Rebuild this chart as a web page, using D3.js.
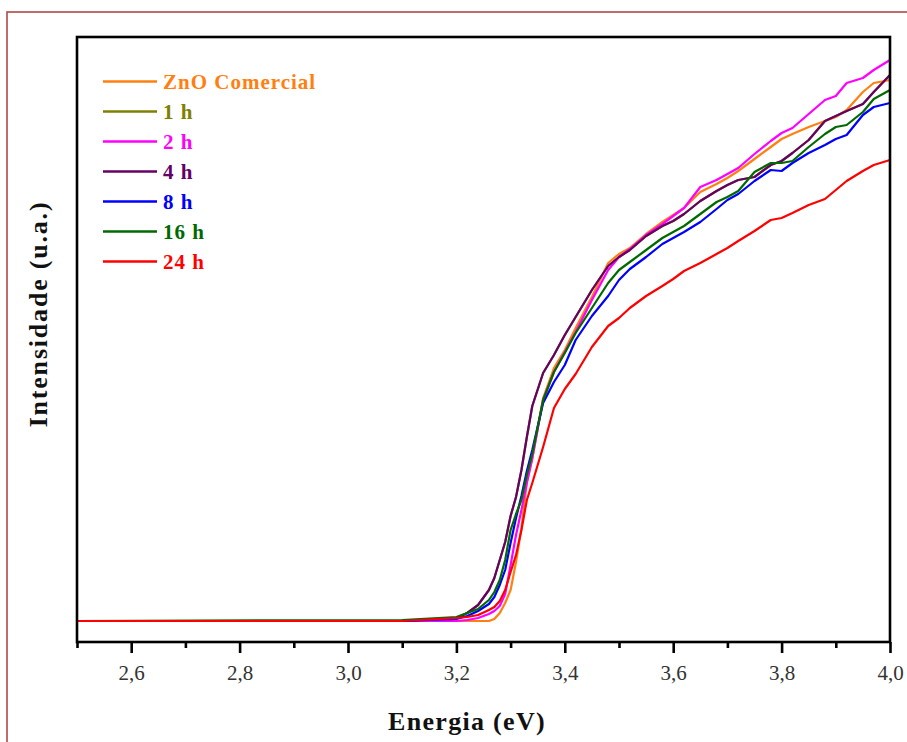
<!DOCTYPE html>
<html><head><meta charset="utf-8">
<script src="https://cdn.jsdelivr.net/npm/d3@7"></script>
<style>body{margin:0;background:#fff} svg{display:block}</style>
</head><body>
<svg id="chart" width="907" height="742"></svg>
<script>
// ---- data ----
const energies = [2.5, 3.1, 3.2, 3.22, 3.24, 3.26, 3.27, 3.28, 3.29, 3.30, 3.31, 3.32, 3.33, 3.34, 3.36, 3.38, 3.40, 3.42, 3.45, 3.48, 3.50, 3.52, 3.55, 3.58, 3.60, 3.62, 3.65, 3.68, 3.70, 3.72, 3.75, 3.78, 3.80, 3.82, 3.85, 3.88, 3.90, 3.92, 3.95, 3.97, 4.0];
const seriesNames = ["ZnO Comercial", "1 h", "2 h", "4 h", "8 h", "16 h", "24 h"];
const seriesColors = ["#ff8010", "#808000", "#ff00ff", "#660066", "#0000ff", "#006a00", "#ff0000"];
const znoComercial = [0,0,0,0,0,0,2,8,18,31,59,93,139,162,223,253,271,293,324,358,367,373,387,399,406,413,429,437,443,450,462,474,482,487,494,500,504,511,529,538,541];
const h1  = [0,0,3,8,16,31,43,61,79,105,124,151,184,215,248,266,286,304,331,355,364,371,385,395,400,407,420,430,436,441,444,456,460,468,481,500,505,510,517,529,546];
const h2  = [0,0,0,1,3,7,10,15,27,56,86,111,138,163,221,249,269,289,321,351,364,372,386,397,405,413,434,441,447,453,467,480,488,493,507,521,525,538,543,551,561];
const h4  = [0,0,3,8,16,31,43,61,79,105,124,151,184,215,248,266,286,304,331,355,364,371,385,395,400,407,420,430,436,441,444,456,460,468,481,500,505,510,517,529,546];
const h8  = [0,0,2,5,10,17,24,36,51,78,103,125,150,171,218,239,256,281,305,325,341,352,364,377,383,389,399,412,421,427,440,451,450,458,468,476,482,486,506,514,518];
const h16 = [0,1,4,8,12,21,29,41,61,91,107,121,146,167,221,249,268,288,313,338,351,359,371,383,389,395,407,419,424,430,449,458,458,460,474,487,494,496,509,522,531];
const h24 = [0,0,3,4,6,11,14,20,31,49,66,91,121,138,174,213,232,247,274,295,303,313,325,335,342,350,358,367,373,380,390,401,403,408,416,422,431,440,450,456,461];
const seriesValues = [znoComercial, h1, h2, h4, h8, h16, h24];
const drawOrder = [1, 0, 2, 3, 4, 5, 6];
const majorTicks = [2.6, 2.8, 3.0, 3.2, 3.4, 3.6, 3.8, 4.0];
const tickLabels = ["2,6", "2,8", "3,0", "3,2", "3,4", "3,6", "3,8", "4,0"];
const minorTicks = [2.5, 2.7, 2.9, 3.1, 3.3, 3.5, 3.7, 3.9];
const xLabel = "Energia (eV)";
const yLabel = "Intensidade (u.a.)";

// ---- layout ----
const svg = d3.select("#chart");
const L = 77, R = 890, T = 37, B = 642;
const x = d3.scaleLinear().domain([2.5, 4.0]).range([L, R]);
const y = d3.scaleLinear().domain([-21, 584]).range([B, T]);
const serif = "'Times New Roman', 'Liberation Serif', serif";

// outer border
svg.append("rect").attr("x", 7).attr("y", 12).attr("width", 1000).attr("height", 1000)
  .attr("fill", "none").attr("stroke", "#b04848").attr("stroke-width", 1.6);

// curves
const line = d3.line().x(d => x(d[0])).y(d => y(d[1]));
const plot = svg.append("g");
drawOrder.forEach(i => {
  const pts = energies.map((e, k) => [e, seriesValues[i][k]]);
  plot.append("path").datum(pts).attr("d", line)
    .attr("fill", "none").attr("stroke", seriesColors[i]).attr("stroke-width", 2.2)
    .attr("stroke-linejoin", "round");
});

// frame
svg.append("rect").attr("x", L).attr("y", T).attr("width", R - L).attr("height", B - T)
  .attr("fill", "none").attr("stroke", "#000").attr("stroke-width", 2.6);

// x axis
const axMajor = svg.append("g").attr("transform", `translate(0,${B})`)
  .call(d3.axisBottom(x).tickValues(majorTicks).tickSize(11).tickPadding(12)
    .tickFormat((d, i) => tickLabels[i]));
axMajor.select(".domain").remove();
axMajor.selectAll(".tick line").attr("stroke", "#000").attr("stroke-width", 2.6);
axMajor.selectAll(".tick text").attr("font-family", serif).attr("font-size", 21)
  .attr("fill", "#333");
const axMinor = svg.append("g").attr("transform", `translate(0,${B})`)
  .call(d3.axisBottom(x).tickValues(minorTicks).tickSize(6).tickFormat(""));
axMinor.select(".domain").remove();
axMinor.selectAll(".tick line").attr("stroke", "#000").attr("stroke-width", 2.6);

// axis titles
svg.append("text").attr("x", 467).attr("y", 730).attr("text-anchor", "middle")
  .attr("font-family", serif).attr("font-weight", "bold").attr("font-size", 26)
  .attr("letter-spacing", 1.3).attr("fill", "#111").text(xLabel);
svg.append("text").attr("transform", "translate(47,314) rotate(-90)").attr("text-anchor", "middle")
  .attr("font-family", serif).attr("font-weight", "bold").attr("font-size", 26)
  .attr("letter-spacing", 1.8).attr("fill", "#111").text(yLabel);

// legend
const leg = svg.append("g");
seriesNames.forEach((name, i) => {
  const ry = 81.5 + i * 30;
  leg.append("line").attr("x1", 103).attr("x2", 157).attr("y1", ry).attr("y2", ry)
    .attr("stroke", seriesColors[i]).attr("stroke-width", 2.6);
  leg.append("text").attr("x", 163).attr("y", ry + 7.5)
    .attr("font-family", serif).attr("font-weight", "bold").attr("font-size", 21)
    .attr("letter-spacing", 1).attr("fill", seriesColors[i]).text(name);
});
</script>
</body></html>
